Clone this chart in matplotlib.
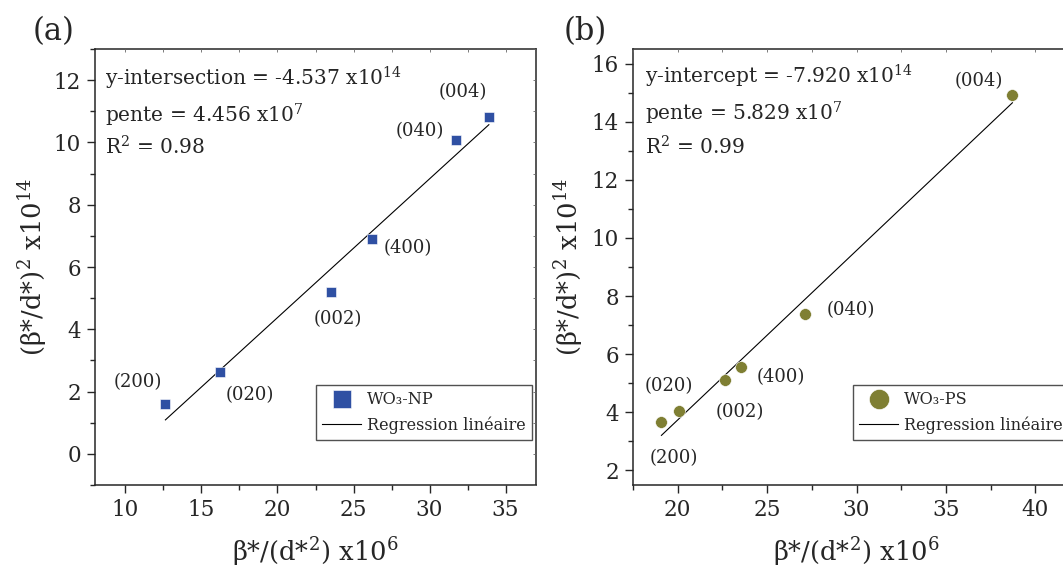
import numpy as np
import matplotlib
matplotlib.use('Agg')
import matplotlib.pyplot as plt
from matplotlib.ticker import MultipleLocator

plt.rcParams['font.family'] = ['DejaVu Serif']
plt.rcParams['mathtext.fontset'] = 'dejavuserif'

# (a) WO3-NP
np_planes = ['(200)', '(020)', '(002)', '(400)', '(040)', '(004)']
np_x = [12.63, 16.2, 23.53, 26.2, 31.75, 33.9]
np_y = [1.6, 2.63, 5.2, 6.89, 10.08, 10.81]
np_intercept = -4.537
np_slope = 4.456
np_r2 = 0.98

# (b) WO3-PS
ps_planes = ['(200)', '(020)', '(002)', '(400)', '(040)', '(004)']
ps_x = [19.09, 20.1, 22.64, 23.56, 27.12, 38.72]
ps_y = [3.66, 4.05, 5.12, 5.55, 7.37, 14.92]
ps_intercept = -7.920
ps_slope = 5.829
ps_r2 = 0.99

# label positions for the (hkl) tags
np_lab_x = [10.8, 18.18, 24.0, 28.57, 29.37, 32.2]
np_lab_y = [2.32, 1.89, 4.32, 6.6, 10.35, 11.63]
ps_lab_x = [19.77, 19.48, 23.45, 25.78, 29.66, 36.83]
ps_lab_y = [2.41, 4.92, 4.02, 5.21, 7.52, 15.38]

W, H = 1063, 570
INK = '#262626'
fig = plt.figure(figsize=(W / 100, H / 100), dpi=100)


def panel(rect, x, y, planes, lx, ly, slope, intercept, r2, first, marker,
          ms, color, name, xlim, ylim, ylab_x, leg_xy, fit_name):
    l, b, r, t = rect
    box = [l / W, 1 - b / H, (r - l) / W, (b - t) / H]
    ax = fig.add_axes(box)

    ax.plot(x, y, linestyle='none', marker=marker, ms=ms, color=color,
            mec='white', mew=0.4, label=name, zorder=3)
    xf = np.array([min(x), max(x)])
    ax.plot(xf, slope / 10 * xf + intercept, color='black', lw=0.8,
            label='Regression linéaire', zorder=2)

    for p, tx, ty in zip(planes, lx, ly):
        ax.text(tx, ty, p, ha='center', va='center', fontsize=13, color=INK)

    ax.text(first[0], first[1], '%s = %.3f x10$^{14}$' % (fit_name, intercept),
            transform=ax.transAxes, fontsize=14.5, va='baseline', color=INK)
    ax.text(first[0], first[2], 'pente = %.3f x10$^{7}$' % slope,
            transform=ax.transAxes, fontsize=14.5, va='baseline', color=INK)
    ax.text(first[0], first[3], 'R$^2$ = %.2f' % r2,
            transform=ax.transAxes, fontsize=14.5, va='baseline', color=INK)

    ax.set_xlim(*xlim)
    ax.set_ylim(*ylim)
    ax.xaxis.set_major_locator(MultipleLocator(5))
    ax.xaxis.set_minor_locator(MultipleLocator(2.5))
    ax.yaxis.set_major_locator(MultipleLocator(2))
    ax.yaxis.set_minor_locator(MultipleLocator(1))
    ax.tick_params(which='major', length=6, width=1, labelsize=15.5,
                   color=INK, labelcolor=INK, pad=4)
    ax.tick_params(which='minor', length=3.5, width=1, color=INK)
    for s in ax.spines.values():
        s.set_linewidth(1.1)
        s.set_color(INK)

    # small inward ticks on the top and right frame
    top = fig.add_axes(box, frameon=False)
    top.set_xlim(*xlim)
    top.set_ylim(*ylim)
    top.xaxis.tick_top()
    top.yaxis.tick_right()
    top.xaxis.set_major_locator(MultipleLocator(2.5))
    top.yaxis.set_major_locator(MultipleLocator(1))
    top.tick_params(direction='in', length=2.5, width=0.6, color='#666666',
                    labeltop=False, labelright=False)
    top.patch.set_visible(False)

    ax.set_xlabel('β*/(d*$^2$) x10$^6$', fontsize=18.5, color=INK)
    ax.xaxis.set_label_coords(0.5, -0.115)
    ax.set_ylabel('(β*/d*)$^2$ x10$^{14}$', fontsize=18.5, color=INK)
    ax.yaxis.set_label_coords((ylab_x - l) / (r - l), 0.5)

    leg = ax.legend(loc='upper left',
                    bbox_to_anchor=(leg_xy[0] / W, 1 - leg_xy[1] / H),
                    bbox_transform=fig.transFigure, borderaxespad=0,
                    fontsize=11.6, markerscale=1.7, frameon=True, fancybox=False,
                    edgecolor=INK, borderpad=0.4, handlelength=2.4,
                    handletextpad=0.35, labelspacing=0.5)
    leg.get_frame().set_linewidth(1.0)
    for txt in leg.get_texts():
        txt.set_color(INK)
    return ax


ax1 = panel((95, 485, 536, 49), np_x, np_y, np_planes, np_lab_x, np_lab_y,
            np_slope, np_intercept, np_r2, (0.023, 0.917, 0.831, 0.757), 's',
            7.5, '#2f50a3', 'WO₃-NP', (8, 37), (-1, 13), 49, (316, 385),
            'y-intersection')

ax2 = panel((633, 485, 1080, 49), ps_x, ps_y, ps_planes, ps_lab_x, ps_lab_y,
            ps_slope, ps_intercept, ps_r2, (0.026, 0.921, 0.836, 0.759), 'o',
            8.5, '#7f7f33', 'WO₃-PS', (17.5, 42.5), (1.5, 16.5), 585, (853, 385),
            'y-intercept')

fig.text(33 / W, 1 - 40 / H, '(a)', fontsize=22, color=INK, va='baseline')
fig.text(564 / W, 1 - 40 / H, '(b)', fontsize=22, color=INK, va='baseline')

fig.savefig('out.png', dpi=100)
